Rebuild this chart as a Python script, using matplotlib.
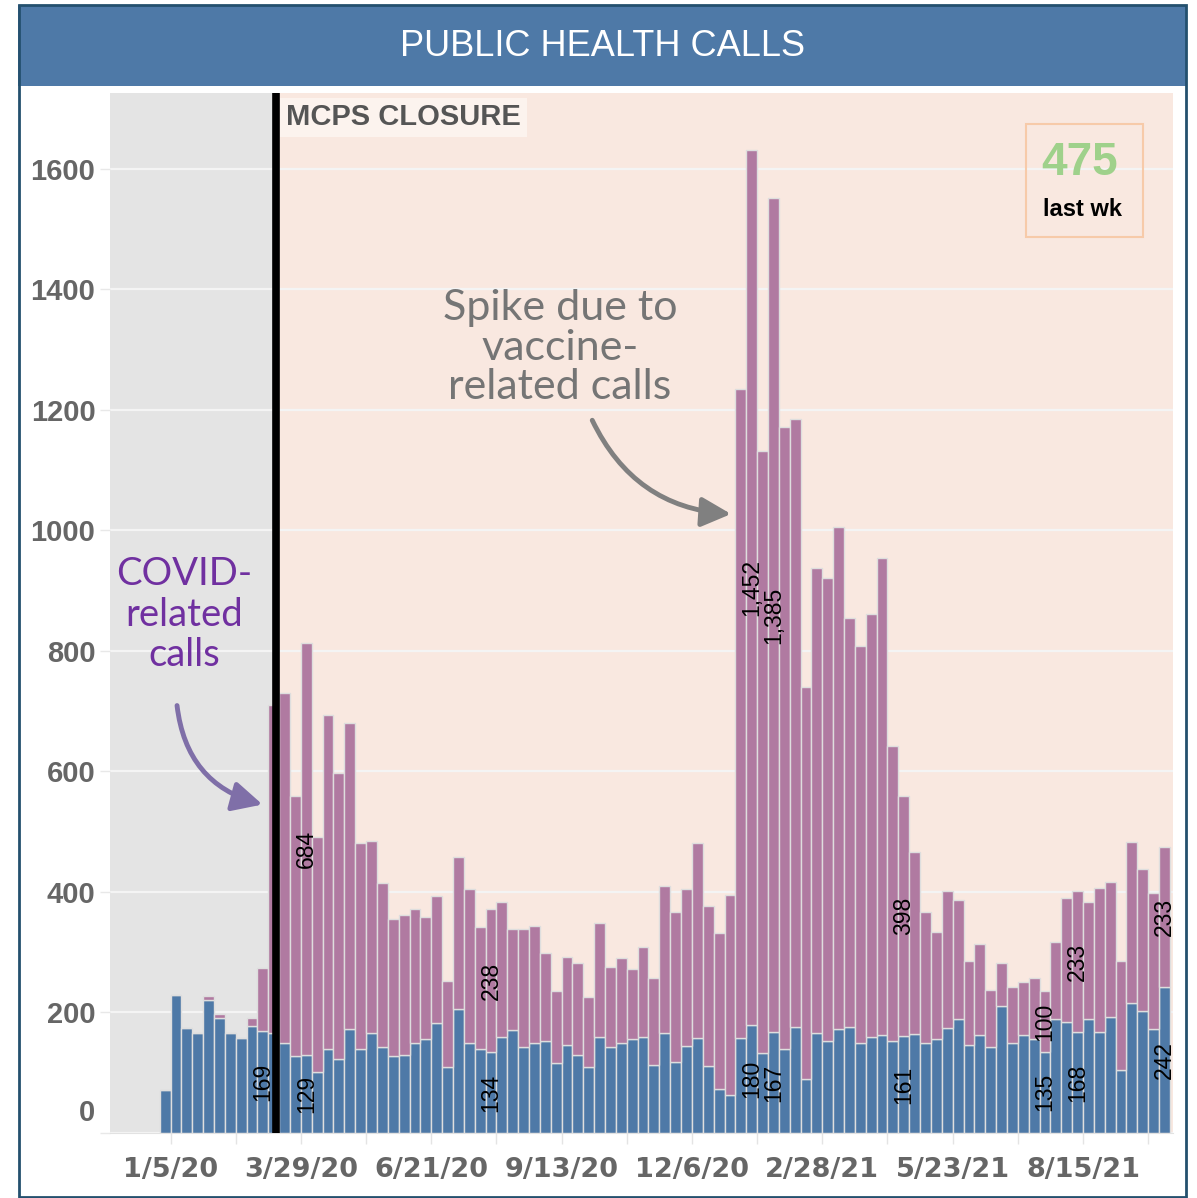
import matplotlib
matplotlib.use('Agg')
import matplotlib.pyplot as plt
import matplotlib.dates as mdates
from matplotlib.patches import Rectangle, FancyArrowPatch
from matplotlib import font_manager
import pandas as pd

# weekly calls, week starting 12/29/19
weeks = pd.date_range('2019-12-29', periods=93, freq='7D')
other_calls = [71, 229, 175, 166, 221, 191, 166, 158, 178, 169,
               166, 149, 127, 129, 102, 139, 123, 173, 139, 166,
               143, 127, 129, 149, 156, 182, 110, 206, 149, 139,
               134, 159, 171, 143, 149, 152, 116, 146, 129, 109,
               159, 143, 149, 156, 159, 113, 166, 118, 145, 157,
               112, 73, 63, 158, 180, 132, 167, 139, 176, 90,
               166, 153, 172, 176, 149, 159, 162, 152, 161, 165,
               149, 156, 175, 189, 146, 162, 142, 210, 149, 162,
               156, 135, 189, 185, 168, 189, 168, 192, 105, 215,
               203, 172, 242]
covid_calls = [0, 0, 0, 0, 6, 7, 0, 0, 13, 105,
               544, 581, 433, 684, 389, 555, 474, 507, 342, 319,
               272, 228, 233, 223, 202, 212, 142, 252, 256, 203,
               238, 225, 167, 195, 195, 147, 120, 146, 153, 117,
               189, 132, 142, 116, 150, 145, 244, 249, 260, 324,
               265, 259, 332, 1076, 1452, 1000, 1385, 1033, 1009, 650,
               771, 768, 834, 679, 659, 702, 793, 490, 398, 301,
               218, 178, 226, 198, 139, 152, 96, 72, 93, 89,
               102, 100, 128, 205, 233, 195, 238, 224, 180, 268,
               235, 226, 233]
other_label_weeks = [9, 13, 30, 54, 56, 68, 81, 84, 92]
covid_label_weeks = [13, 30, 54, 56, 68, 81, 84, 92]
closure_date = pd.Timestamp('2020-03-13')
major_dates = pd.date_range('2020-01-05', periods=8, freq='84D')
minor_dates = pd.date_range('2020-01-05', periods=16, freq='42D')
y_ticks = list(range(0, 1601, 200))

BLUE = '#4e79a7'
PINK = '#b07aa1'

names = {f.name for f in font_manager.fontManager.ttflist}


def pick(*cands):
    for c in cands:
        if c in names:
            return c
    return 'DejaVu Sans'


NARROW = pick('Liberation Sans Narrow', 'DejaVu Sans Condensed', 'Liberation Sans')
HAND = pick('Lato', 'Open Sans')

W, H = 1197, 1198


def fx(px):
    return px / W


def fy(px):
    return 1 - px / H


fig = plt.figure(figsize=(W / 100, H / 100), dpi=100)
fig.patch.set_facecolor('white')

# banner + frame
fig.patches.append(Rectangle((fx(18), fy(86)), fx(1186) - fx(18), fy(5) - fy(86),
                             transform=fig.transFigure, facecolor=BLUE, edgecolor='none', zorder=0))
fig.patches.append(Rectangle((fx(19), fy(1197)), fx(1186) - fx(19), fy(5) - fy(1197),
                             transform=fig.transFigure, fill=False, edgecolor='#24506e', lw=2, zorder=5))
fig.text(fx(602), fy(47), 'PUBLIC HEALTH CALLS', color='white', fontsize=26,
         family=NARROW, ha='center', va='center')

ax = fig.add_axes([fx(110), fy(1133), fx(1173) - fx(110), fy(93) - fy(1133)])
x = mdates.date2num(weeks)
x0 = x[0]
xmin, xmax = x0 - 32, x0 + 653
cx = mdates.date2num(closure_date)

ax.axvspan(xmin, cx, color='#e4e4e4', lw=0, zorder=0)
ax.axvspan(cx, xmax, color='#f9e8e0', lw=0, zorder=0)

ax.bar(x, other_calls, width=7, align='edge', color=BLUE, edgecolor='#dedede', linewidth=1, zorder=2)
ax.bar(x, covid_calls, width=7, align='edge', bottom=other_calls, color=PINK,
       edgecolor='#dedede', linewidth=1, zorder=2)
ax.axvline(cx, color='black', lw=5.5, zorder=3)

ax.set_xlim(xmin, xmax)
ax.set_ylim(0, 1726)
ax.set_axisbelow(True)
ax.yaxis.grid(True, color='#f4f4f4', lw=1.6)
for s in ['top', 'right', 'left']:
    ax.spines[s].set_visible(False)
ax.spines['bottom'].set_color('#e2e2e2')

ax.set_yticks(y_ticks)
ax.set_yticklabels(['' if v == 0 else str(v) for v in y_ticks])
ax.tick_params(axis='y', length=7, color='#e8e8e8', width=1, pad=3.5, labelsize=21, labelcolor='#666666')
for lab in ax.get_yticklabels():
    lab.set_fontfamily(NARROW)
    lab.set_fontweight('bold')
ax.text(-0.014, 33, '0', transform=ax.get_yaxis_transform(), ha='right', va='center',
        fontsize=21, fontweight='bold', family=NARROW, color='#666666')

ax.set_xticks(mdates.date2num(major_dates))
ax.set_xticks(mdates.date2num(minor_dates), minor=True)
ax.set_xticklabels([f"{d.month}/{d.day}/{d.strftime('%y')}" for d in major_dates])
ax.tick_params(axis='x', which='both', length=8, color='#e4e4e4', width=1)
ax.tick_params(axis='x', which='major', pad=9, labelsize=19.5, labelcolor='#666666')
for lab in ax.get_xticklabels():
    lab.set_fontweight('bold')

# value labels
for i in other_label_weeks:
    ax.text(x[i] + 3.5, other_calls[i] / 2, f'{other_calls[i]:,}', rotation=90, ha='center', va='center',
            fontsize=16.5, family=NARROW, color='black', zorder=4)
for i in covid_label_weeks:
    ax.text(x[i] + 3.5, other_calls[i] + covid_calls[i] / 2, f'{covid_calls[i]:,}', rotation=90,
            ha='center', va='center', fontsize=16.5, family=NARROW, color='black', zorder=4)

ax.text(cx + 6.5, 0.99, 'MCPS CLOSURE', transform=ax.get_xaxis_transform(), ha='left', va='top',
        fontsize=21, fontweight='bold', family=NARROW, color='#555555', zorder=5,
        bbox=dict(boxstyle='square,pad=0.2', fc='#fcf3ee', ec='none'))

# last week box
last_week = other_calls[-1] + covid_calls[-1]
ax.add_patch(Rectangle((0.862, 0.8615), 0.110, 0.1085, transform=ax.transAxes, fill=False,
                       edgecolor='#f7caa9', lw=1.5, zorder=5))
ax.text(0.9125, 0.933, f'{last_week}', transform=ax.transAxes, ha='center', va='center',
        fontsize=33, fontweight='bold', family=NARROW, color='#9fd18b', zorder=5)
ax.text(0.915, 0.8875, 'last wk', transform=ax.transAxes, ha='center', va='center',
        fontsize=17, fontweight='bold', family=NARROW, color='black', zorder=5)

# annotations
ax.text(x0 + 16, 860, 'COVID-\nrelated\ncalls', ha='center', va='center', fontsize=27.5,
        family=HAND, color='#7030a0', linespacing=1.15, zorder=5)
ax.add_patch(FancyArrowPatch((x0 + 11, 714), (x0 + 68, 544), connectionstyle='arc3,rad=0.35',
                             arrowstyle='-|>,head_length=0.9,head_width=0.45', mutation_scale=20,
                             color='#7f6fa8', lw=3.5, zorder=5))
ax.text(x0 + 258, 1303, 'Spike due to\nvaccine-\nrelated calls', ha='center', va='center', fontsize=31,
        family=HAND, color='#757575', linespacing=1.05, zorder=5)
ax.add_patch(FancyArrowPatch((x0 + 278, 1187), (x0 + 370, 1027), connectionstyle='arc3,rad=0.3',
                             arrowstyle='-|>,head_length=0.9,head_width=0.45', mutation_scale=20,
                             color='#808080', lw=3.5, zorder=5))

fig.savefig('out.png', dpi=100)
